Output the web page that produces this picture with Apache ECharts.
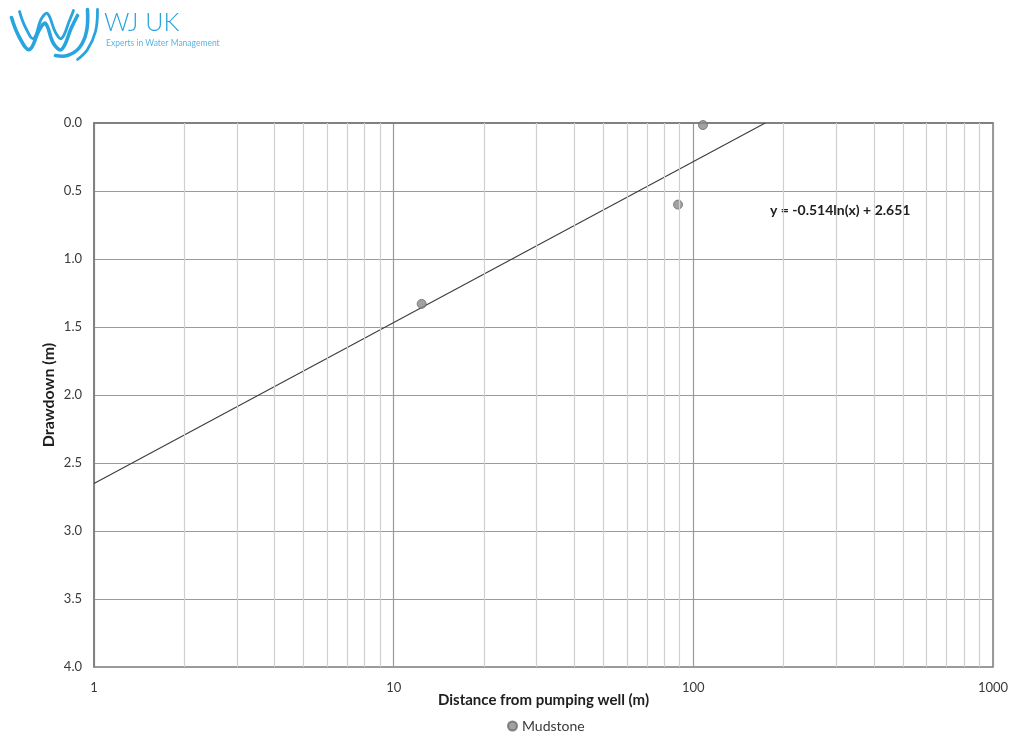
<!DOCTYPE html>
<html>
<head>
<meta charset="utf-8">
<title>Drawdown vs distance</title>
<script src="https://cdn.jsdelivr.net/npm/echarts@6/dist/echarts.min.js"></script>
<style>
  html, body { margin: 0; padding: 0; background: #ffffff; }
  #chart { width: 1014px; height: 736px; }
</style>
</head>
<body>
<div id="chart"></div>
<script>
// Observation wells: distance from pumping well (m) and drawdown (m)
const seriesName = 'Mudstone';
const distances = [12.4, 88.9, 107.7];
const drawdowns = [1.33, 0.6, 0.015];

// Logarithmic trendline y = a*ln(x) + b
const trendA = -0.514;
const trendB = 2.651;

// Axis ranges and ticks
const xMin = 1, xMax = 1000;
const yMin = 0, yMax = 4, yStep = 0.5;
// Intermediate decade grid lines on the log axis
const minorGrid = [2, 3, 4, 5, 6, 7, 8, 9, 20, 30, 40, 50, 60, 70, 80, 90, 200, 300, 400, 500, 600, 700, 800, 900];

const FONT = 'Lato, "Open Sans", sans-serif';
const TEXT = '#3a3a3a';
const LOGO = '#2aa4de';

const points = distances.map((d, i) => [d, drawdowns[i]]);

// Trendline runs from x = 1 until it reaches zero drawdown
const xZero = Math.exp(-trendB / trendA);
const trendData = [xMin, xZero].map(x => [x, trendA * Math.log(x) + trendB]);
const eqText = 'y = ' + trendA.toFixed(3) + 'ln(x) + ' + trendB.toFixed(3);

// Logo wave strokes
const logoStrokes = [
  { pts: [[2, 12], [10, 32], [20, 44], [30, 24], [36, 18], [44, 38], [52, 44], [62, 22], [68, 10]], w: 3.6 },
  { pts: [[10, 6], [16, 22], [24, 33], [32, 13], [38, 8], [46, 27], [52, 33], [60, 15], [64, 5]], w: 2.8 },
  { pts: [[78, 4], [77, 26], [70, 42], [58, 50], [46, 50]], w: 3.6 },
  { pts: [[88, 4], [86, 26], [78, 44], [68, 54]], w: 2.8 }
];

const chart = echarts.init(document.getElementById('chart'), null, { renderer: 'canvas' });

chart.setOption({
  backgroundColor: '#ffffff',
  animation: false,
  textStyle: { fontFamily: FONT },
  grid: {
    left: 94, right: 21, top: 123, bottom: 69,
    show: true, borderColor: '#7a7a7a', borderWidth: 1.5
  },
  legend: {
    data: [seriesName],
    top: 717,
    left: 502,
    itemWidth: 9, itemHeight: 9,
    itemGap: 4,
    padding: [2, 5],
    textStyle: { color: TEXT, fontSize: 14, fontFamily: FONT }
  },
  xAxis: {
    type: 'log',
    logBase: 10,
    min: xMin,
    max: xMax,
    name: 'Distance from pumping well (m)',
    nameLocation: 'middle',
    nameGap: 26,
    nameMoveOverlap: false,
    nameTextStyle: { color: '#202020', fontSize: 15, fontWeight: 'bold', fontFamily: FONT },
    axisLine: { show: true, lineStyle: { color: '#7a7a7a', width: 1.5 } },
    axisTick: { show: false },
    axisLabel: { color: TEXT, fontSize: 13, margin: 14, fontFamily: FONT, formatter: v => String(v) },
    splitLine: { show: true, lineStyle: { color: '#9a9a9a', width: 1.2 } }
  },
  yAxis: {
    type: 'value',
    inverse: true,
    min: yMin,
    max: yMax,
    interval: yStep,
    name: 'Drawdown (m)',
    nameLocation: 'middle',
    nameGap: 37,
    nameMoveOverlap: false,
    nameRotate: 90,
    nameTextStyle: { color: '#202020', fontSize: 16, fontWeight: 'bold', fontFamily: FONT },
    axisLine: { show: true, lineStyle: { color: '#7a7a7a', width: 1.5 } },
    axisTick: { show: false },
    axisLabel: { color: TEXT, fontSize: 13, margin: 12, fontFamily: FONT, formatter: v => v.toFixed(1) },
    splitLine: { show: true, lineStyle: { color: '#9a9a9a', width: 1.2 } }
  },
  series: [
    {
      name: 'grid-minor',
      type: 'line',
      data: [],
      silent: true,
      markLine: {
        silent: true,
        symbol: 'none',
        label: { show: false },
        lineStyle: { color: '#cfcfcf', width: 1.2, type: 'solid' },
        data: minorGrid.map(v => ({ xAxis: v }))
      }
    },
    {
      name: 'trend',
      type: 'line',
      data: trendData,
      showSymbol: false,
      silent: true,
      lineStyle: { color: '#3c3c3c', width: 1.1 },
      z: 3
    },
    {
      name: seriesName,
      type: 'scatter',
      data: points,
      symbol: 'circle',
      symbolSize: 9,
      itemStyle: { color: '#8a8a8a', borderColor: '#6a6a6a', borderWidth: 1 },
      z: 4
    }
  ],
  graphic: [
    {
      type: 'text',
      left: 770, top: 203,
      style: { text: eqText, fill: '#202020', font: 'bold 14px ' + FONT }
    },
    {
      type: 'group',
      left: 9, top: 7,
      children: logoStrokes.map(s => ({
        type: 'polyline',
        shape: { points: s.pts, smooth: 0.4 },
        style: { stroke: LOGO, lineWidth: s.w, fill: null, lineCap: 'round' }
      }))
    },
    {
      type: 'text',
      left: 104, top: 10,
      style: { text: 'WJ UK', fill: LOGO, font: '300 25px ' + FONT }
    },
    {
      type: 'text',
      left: 106, top: 39,
      style: { text: 'Experts in Water Management', fill: '#5ab6e2', font: '8.5px ' + FONT }
    }
  ]
});
</script>
</body>
</html>
